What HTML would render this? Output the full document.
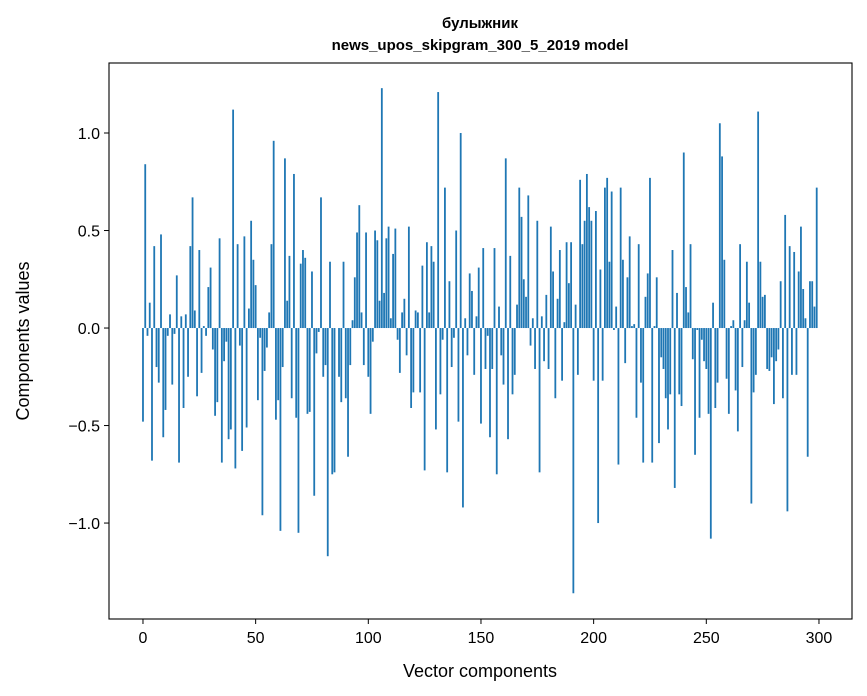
<!DOCTYPE html>
<html><head><meta charset="utf-8"><style>
html,body{margin:0;padding:0;background:#fff;}
svg{display:block;font-family:"Liberation Sans","DejaVu Sans",sans-serif;}
</style></head><body>
<svg id="chart" width="867" height="696" viewBox="0 0 867 696">
<rect x="0" y="0" width="867" height="696" fill="#fff"/>
<text x="480" y="28" text-anchor="middle" font-size="15" font-weight="bold">булыжник</text>
<text x="480" y="50" text-anchor="middle" font-size="15" font-weight="bold">news_upos_skipgram_300_5_2019 model</text>
<g id="bars"></g>
<rect x="109" y="63" width="743" height="556" fill="none" stroke="#000" stroke-width="1.1"/>
<g id="xticks"></g>
<g id="yticks"></g>
<text x="480" y="677" text-anchor="middle" font-size="18">Vector components</text>
<text transform="translate(29,341) rotate(-90)" text-anchor="middle" font-size="18">Components values</text>
</svg>
<script>
const values = [
-0.48,0.84,-0.04,0.13,-0.68,0.42,-0.2,-0.28,0.48,-0.56,
-0.42,-0.04,0.07,-0.29,-0.03,0.27,-0.69,0.06,-0.41,0.07,
-0.25,0.42,0.67,0.09,-0.35,0.4,-0.23,0.01,-0.04,0.21,
0.31,-0.11,-0.45,-0.38,0.46,-0.69,-0.17,-0.07,-0.57,-0.52,
1.12,-0.72,0.43,-0.09,-0.63,0.47,-0.51,0.1,0.55,0.35,
0.22,-0.37,-0.05,-0.96,-0.22,-0.1,0.08,0.43,0.96,-0.47,
-0.37,-1.04,-0.2,0.87,0.14,0.37,-0.36,0.79,-0.46,-1.05,
0.33,0.4,0.36,-0.44,-0.43,0.29,-0.86,-0.13,-0.02,0.67,
-0.25,-0.19,-1.17,0.34,-0.75,-0.74,0.0,-0.25,-0.38,0.34,
-0.36,-0.66,-0.19,0.04,0.26,0.49,0.63,0.08,-0.19,0.49,
-0.25,-0.44,-0.07,0.5,0.45,0.14,1.23,0.18,0.46,0.52,
0.05,0.38,0.51,-0.06,-0.23,0.08,0.15,-0.14,0.52,-0.41,
-0.33,0.09,0.08,-0.33,0.32,-0.73,0.44,0.08,0.42,0.34,
-0.52,1.21,-0.34,-0.06,0.72,-0.74,0.24,-0.2,-0.05,0.5,
-0.48,1.0,-0.92,0.05,-0.14,0.28,0.19,-0.24,0.06,0.31,
-0.49,0.41,-0.21,-0.04,-0.56,-0.21,0.41,-0.75,0.11,-0.14,
-0.29,0.87,-0.57,0.37,-0.34,-0.24,0.12,0.72,0.57,0.25,
0.16,0.68,-0.09,0.05,-0.21,0.55,-0.74,0.06,-0.17,0.17,
-0.21,0.52,0.29,-0.36,0.15,0.4,-0.27,0.03,0.44,0.23,
0.44,-1.36,0.12,-0.24,0.76,0.43,0.55,0.79,0.62,0.55,
-0.27,0.6,-1.0,0.3,-0.27,0.72,0.77,0.34,0.7,-0.01,
0.11,-0.7,0.72,0.35,-0.18,0.26,0.47,0.01,0.02,-0.46,
0.43,-0.28,-0.69,0.16,0.28,0.77,-0.69,0.01,0.26,-0.59,
-0.15,-0.21,-0.36,-0.52,-0.34,0.4,-0.82,0.18,-0.34,-0.4,
0.9,0.21,0.08,0.43,-0.16,-0.65,-0.01,-0.46,-0.06,-0.17,
-0.21,-0.44,-1.08,0.13,-0.41,-0.28,1.05,0.88,0.35,-0.26,
-0.44,0.01,0.04,-0.32,-0.53,0.43,-0.2,0.04,0.34,0.13,
-0.9,-0.33,-0.24,1.11,0.34,0.16,0.17,-0.21,-0.22,-0.15,
-0.39,-0.17,-0.11,0.24,-0.36,0.58,-0.94,0.42,-0.24,0.39,
-0.24,0.29,0.52,0.2,0.05,-0.66,0.24,0.24,0.11,0.72
];
const xTickValues = [0,50,100,150,200,250,300];
const xTickLabels = ["0","50","100","150","200","250","300"];
const yTickValues = [-1.0,-0.5,0.0,0.5,1.0];
const yTickLabels = ["\u22121.0","\u22120.5","0.0","0.5","1.0"];

const NS = "http://www.w3.org/2000/svg";
const L=109,R=852,T=63,B=619;
const xMin=-15.08, xMax=314.66, yMin=-1.492, yMax=1.359;
function xs(v){return L+(v-xMin)/(xMax-xMin)*(R-L);}
function ys(v){return B-(v-yMin)/(yMax-yMin)*(B-T);}
function mk(tag,attrs){const e=document.createElementNS(NS,tag);for(const k in attrs)e.setAttribute(k,attrs[k]);return e;}

const gb=document.getElementById('bars');
values.forEach((v,i)=>{
  const x0=xs(i-0.4), x1=xs(i+0.4);
  const y0=ys(Math.max(v,0)), y1=ys(Math.min(v,0));
  const r=mk('rect',{x:x0,y:y0,width:x1-x0,height:Math.max(y1-y0,0.01),fill:'#1f77b4'});
  
  
  gb.appendChild(r);
});
const gx=document.getElementById('xticks');
xTickValues.forEach((v,i)=>{
  const x=xs(v);
  const l=mk('line',{x1:x,x2:x,y1:B,y2:B+5,stroke:'#000','stroke-width':1});
  
  
  gx.appendChild(l);
  const t=mk('text',{x:x,y:B+24,'text-anchor':'middle','font-size':16});
  
  
  t.textContent=xTickLabels[i];gx.appendChild(t);
});
const gy=document.getElementById('yticks');
yTickValues.forEach((v,i)=>{
  const y=ys(v);
  const l=mk('line',{x1:L-5,x2:L,y1:y,y2:y,stroke:'#000','stroke-width':1});
  
  
  gy.appendChild(l);
  const t=mk('text',{x:L-9,y:y+6,'text-anchor':'end','font-size':16});
  
  
  t.textContent=yTickLabels[i];gy.appendChild(t);
});
</script>
</body></html>
